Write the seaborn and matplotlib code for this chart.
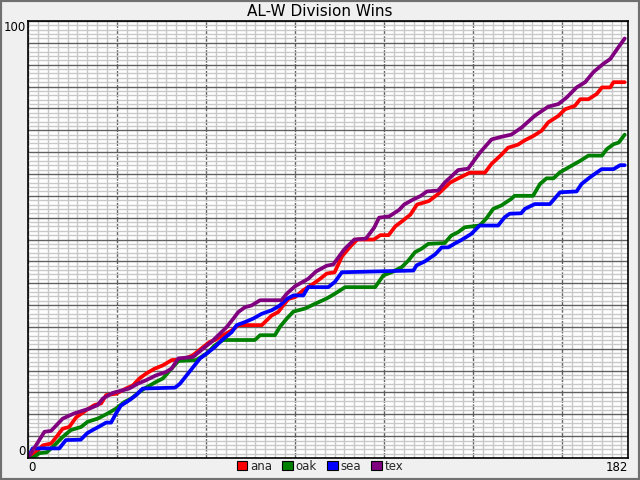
import matplotlib
matplotlib.use("Agg")
import matplotlib.pyplot as plt
from matplotlib.patches import Patch, Rectangle
from matplotlib.ticker import MultipleLocator
import pandas as pd
import seaborn as sns

# 2011 AL West, cumulative wins by day of season
ana_days = [0, 2, 4.5, 7, 9, 10.5, 12.5, 14.6, 17.6, 20.1, 22.2, 23.7, 26.7, 29.7, 31.8, 33.8,
            35.8, 38.3, 40.9, 43.6, 47.1, 50, 53, 55.2, 56.7, 59, 61.8, 63.8, 70.9, 72.4, 73.9,
            75.9, 77.4, 79, 81, 83.5, 86.4, 88.6, 90.6, 93, 95.3, 97.9, 99.9, 104.9, 106.9,
            109.4, 111.4, 113.5, 116, 118, 121.6, 124.4, 128, 130, 134, 138.6, 140.6, 143.6,
            145.6, 148.6, 150.7, 153.3, 155.8, 157.8, 160.9, 162.9, 165.9, 167.5, 170, 172.5,
            174.1, 176.6, 177.6, 181]
ana_wins = [0, 1, 2.9, 3.3, 5.2, 6.7, 7.1, 9.3, 10.9, 12.1, 12.5, 14.4, 14.7, 15.9, 16.6, 18.2,
            19.3, 20.4, 21.2, 22.4, 22.6, 23.5, 25.3, 26.6, 27, 28, 29.2, 30.4, 30.4, 31.5, 32.6,
            33.4, 34.9, 36.4, 36.8, 38.4, 39.8, 41, 42.2, 42.5, 46.2, 48.5, 50, 50, 51,
            51, 53, 54.2, 55.7, 58, 58.8, 60.4, 63, 63.8, 65.3, 65.3, 67.3, 69.4,
            71, 71.7, 72.7, 73.7, 74.9, 76.8, 78.3, 79.8, 80.6, 82.1, 82.1, 83.3,
            84.8, 84.8, 86, 86]

oak_days = [0, 1.4, 3.4, 5.7, 8, 10.5, 13, 16.1, 18.1, 21.1, 24.2, 26.7, 29.2, 31.3, 33.8, 35.3,
            38.8, 40.9, 43.6, 45.6, 51, 54.2, 56.7, 59.2, 68.8, 70.4, 74.9, 76.4, 78.5, 80.5,
            84, 87.1, 90.6, 93.1, 96.2, 105.3, 107.8, 110.3, 113.4, 115.4, 117.4, 119.4, 121.4,
            126.4, 128.4, 130.5, 132.5, 137, 139, 141.1, 143.6, 146.6, 147.6, 153.2, 155.3,
            157.3, 159.4, 161.4, 164.9, 167.5, 170, 174.1, 175.6, 177.6, 179.2, 181]
oak_wins = [0, 0, 1.1, 1.3, 2.9, 4.8, 6.4, 7.1, 8.3, 9, 10.2, 11.3, 12.8, 13.6, 15.1, 15.9,
            17.4, 18.2, 20.5, 22.2, 22.4, 23.9, 25.8, 27, 27, 28.1, 28.1, 30, 31.9, 33.5,
            34.2, 35.3, 36.5, 37.6, 39.1, 39.1, 41.8, 42.5, 43.7, 45.2, 47.1, 47.9, 49,
            49.2, 50.9, 51.7, 52.8, 53.2, 54.8, 57, 57.8, 59.3, 60, 60, 62.7,
            64, 64, 65.4, 66.9, 68, 69.2, 69.2, 70.7, 71.8, 72.2, 74]

sea_days = [0, 1.4, 9.5, 11.5, 16, 18, 19.6, 21.6, 23.7, 25.2, 26.7, 28.2, 30.7, 32.8, 34.8,
            44.6, 46.1, 48.1, 50.1, 52.2, 54.2, 56.7, 58.7, 61.8, 63.3, 65.8, 68.3, 70.9, 73.9,
            76.4, 78.5, 80.5, 83.5, 85, 91.1, 93.1, 95.2, 116.9, 117.9, 120.4, 123.5, 125.5,
            127.5, 129.5, 131.5, 134.5, 137, 142.6, 144.6, 146.1, 149.6, 150.7, 153.7, 158.3,
            161.4, 166.4, 167.9, 170.4, 174, 177.6, 179.6, 181]
sea_wins = [0, 2.2, 2.2, 4.1, 4.2, 5.7, 6.4, 7.2, 8.1, 8.1, 10.2, 12, 13.2, 14.4, 15.9,
            16.1, 17, 18.9, 20.8, 22.8, 23.9, 25.4, 26.9, 28.8, 30.4, 31.1, 31.9, 33, 33.8,
            34.9, 36.4, 37.2, 37.2, 39.1, 39.1, 40.3, 42.5, 42.9, 44.1, 45, 46.6, 48.2,
            48.2, 49.1, 49.9, 51.3, 53.2, 53.2, 55.1, 55.9, 56, 57, 58.1, 58.1,
            60.8, 61, 62.7, 64.2, 66.1, 66.1, 67, 67]

tex_days = [0, 5, 7, 10.5, 14, 18.6, 21.1, 22.7, 25.7, 30.7, 33.3, 35.8, 38.8, 41.9, 43.6, 45.6,
            50, 53.7, 55.7, 58.7, 60.3, 62.3, 63.8, 65.8, 67.8, 70.4, 76.9, 78.5, 81, 85, 87.4,
            90.6, 92.6, 95.9, 99, 102.5, 105, 106.5, 109.6, 112.6, 114.1, 116.7, 119.2, 121,
            124.4, 126.4, 130.5, 133.5, 137, 140.6, 143.6, 146.6, 149.7, 153.7, 157.8, 160.9,
            163.4, 166.4, 169, 171.5, 174.5, 176.6, 179.1, 181]
tex_wins = [0, 6, 6.2, 9, 10.2, 11.3, 12.1, 13.6, 14.9, 15.9, 17, 17.8, 18.9, 19.7, 20.5, 22.8,
            23.1, 25.4, 26.6, 28.8, 30, 31.9, 33.4, 34.5, 34.9, 36.1, 36.1, 37.6, 39.3, 41, 42.7,
            44, 44.3, 47.7, 50, 50.2, 52.7, 55, 55.3, 56.8, 58, 59.1, 60, 61,
            61.2, 63, 65.9, 66.2, 69.8, 72.9, 73.5, 74, 75.6, 78.3, 80.4, 81,
            82.5, 84.8, 86, 88.3, 90.2, 91.3, 94, 96]

teams = ["ana", "oak", "sea", "tex"]
team_colors = {"ana": "#ff0000", "oak": "#008000", "sea": "#0000ff", "tex": "#800080"}

frames = []
for name, d, w in [("ana", ana_days, ana_wins), ("oak", oak_days, oak_wins),
                   ("sea", sea_days, sea_wins), ("tex", tex_days, tex_wins)]:
    frames.append(pd.DataFrame({"day": d, "wins": w, "team": name}))
df = pd.concat(frames, ignore_index=True)

sns.set_style("white")
fig = plt.figure(figsize=(6.4, 4.8), dpi=100, facecolor="#f0f0f0")
ax = fig.add_axes([28 / 640, 1 - 458 / 480, 600 / 640, 437 / 480])
ax.set_facecolor("white")

ax.set_xlim(0, 182)
ax.set_ylim(0, 100)
ax.xaxis.set_major_locator(MultipleLocator(27))
ax.xaxis.set_minor_locator(MultipleLocator(3))
ax.yaxis.set_major_locator(MultipleLocator(5))
ax.yaxis.set_minor_locator(MultipleLocator(1))
ax.grid(which="minor", color="#c8c8c8", linewidth=1.0)
ax.grid(which="major", axis="y", color="#606060", linewidth=1.0)
ax.grid(which="major", axis="x", color="#606060", linewidth=1.0, linestyle=(0, (4, 1)))
ax.set_axisbelow(True)

sns.lineplot(data=df, x="day", y="wins", hue="team", palette=team_colors,
             hue_order=teams, linewidth=2.7, estimator=None, sort=False,
             legend=False, ax=ax)

ax.tick_params(which="both", length=0, labelbottom=False, labelleft=False)
ax.set_xlabel("")
ax.set_ylabel("")
for s in ax.spines.values():
    s.set_color("black")
    s.set_linewidth(1.2)

lab = dict(fontsize=8.5, color="black")
ax.text(-0.004, 1.0, "100", ha="right", va="top", transform=ax.transAxes, **lab)
ax.text(-0.004, 0.0, "0", ha="right", va="bottom", transform=ax.transAxes, **lab)
ax.text(0.0, -0.008, "0", ha="left", va="top", transform=ax.transAxes, **lab)
ax.text(1.0, -0.008, "182", ha="right", va="top", transform=ax.transAxes, **lab)

fig.text(0.5, 1 - 12 / 480, "AL-W Division Wins", ha="center", va="center",
         fontsize=11, color="black")

handles = [Patch(facecolor=team_colors[t], edgecolor="black", linewidth=0.8) for t in teams]
fig.legend(handles, teams, loc="center", bbox_to_anchor=(0.5, 1 - 466 / 480), ncol=4,
           frameon=False, fontsize=8.5, handlelength=0.9, handleheight=0.9,
           handletextpad=0.2, columnspacing=0.9, borderpad=0)

fig.patches.append(Rectangle((0, 0), 1, 1, transform=fig.transFigure, fill=False,
                             edgecolor="#707070", linewidth=3, zorder=10))

fig.savefig("out.png", dpi=100, facecolor=fig.get_facecolor())
